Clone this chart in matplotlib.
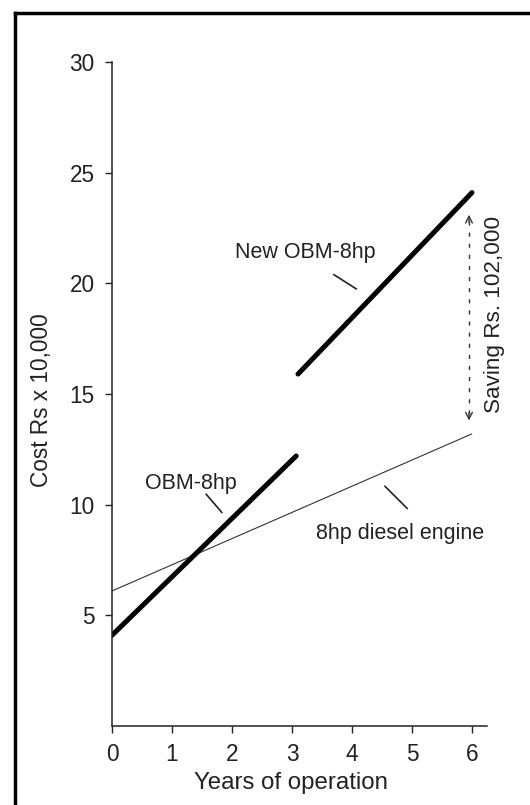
import matplotlib
matplotlib.use("Agg")
import matplotlib.pyplot as plt
from matplotlib.lines import Line2D

plt.rcParams['font.family'] = ['Liberation Sans', 'DejaVu Sans']

# Data (cost in Rs x 10,000 vs years of operation)
obm_years = [0, 3.07]
obm_cost = [4.1, 12.2]
new_obm_years = [3.1, 6.0]
new_obm_cost = [15.9, 24.1]
diesel_years = [0, 6.0]
diesel_cost = [6.1, 13.2]
saving_x = 5.95
saving_range = [13.8, 23.1]

xticks = [0, 1, 2, 3, 4, 5, 6]
yticks = [5, 10, 15, 20, 25, 30]

fig = plt.figure(figsize=(5.30, 8.05), dpi=100)
ax = fig.add_axes([112/530, 1-726/805, (487-112)/530, (726-62)/805])

ax.plot(diesel_years, diesel_cost, color='#333333', lw=0.8, solid_capstyle='butt')
ax.plot(obm_years, obm_cost, color='black', lw=3.6, solid_capstyle='round')
ax.plot(new_obm_years, new_obm_cost, color='black', lw=3.6, solid_capstyle='round')

# saving arrow
ax.plot([saving_x, saving_x], [saving_range[0] + 0.3, saving_range[1] - 0.3],
        color='#333333', lw=1.0, linestyle=(0, (3, 5)))
ax.annotate('', xy=(saving_x, saving_range[1]), xytext=(saving_x, saving_range[1] - 0.35),
            arrowprops=dict(arrowstyle='->', color='#333333', lw=1.0, shrinkA=0, shrinkB=0,
                            mutation_scale=12))
ax.annotate('', xy=(saving_x, saving_range[0]), xytext=(saving_x, saving_range[0] + 0.35),
            arrowprops=dict(arrowstyle='->', color='#333333', lw=1.0, shrinkA=0, shrinkB=0,
                            mutation_scale=12))

txt = dict(fontsize=15.5, color='#222222')
ax.text(3.23, 21.4, 'New OBM-8hp', ha='center', va='center', **txt)
ax.plot([3.70, 4.07], [20.39, 19.75], color='#222222', lw=1.2)
ax.text(1.32, 10.96, 'OBM-8hp', ha='center', va='center', **txt)
ax.plot([1.57, 1.83], [10.47, 9.65], color='#222222', lw=1.2)
ax.text(4.80, 8.7, '8hp diesel engine', ha='center', va='center', **txt)
ax.plot([4.55, 4.92], [10.83, 9.83], color='#222222', lw=1.2)
ax.text(6.37, 18.6, 'Saving Rs. 102,000', ha='center', va='center', rotation=90,
        clip_on=False, fontsize=16.2, color='#222222')

ax.set_xlim(0, 6.25)
ax.set_ylim(0, 30)
ax.set_xticks(xticks)
ax.set_yticks(yticks)
ax.tick_params(axis='both', direction='out', length=5, width=1, labelsize=16.3,
               colors='#222222')
ax.tick_params(axis='y', pad=7.5)
ax.tick_params(axis='x', pad=7)
for s in ['top', 'right']:
    ax.spines[s].set_visible(False)
for s in ['left', 'bottom']:
    ax.spines[s].set_linewidth(1.1)
    ax.spines[s].set_color('#222222')

fig.text(291/530, 1-783/805, 'Years of operation', ha='center', va='center',
         fontsize=17.3, color='#222222')
fig.text(42/530, 1-400/805, 'Cost Rs x 10,000', rotation=90, ha='center', va='center',
         fontsize=16.3, color='#222222')

# page frame (top and left border)
fig.add_artist(Line2D([15/530, 1.0], [1-13/805, 1-13/805], color='black', lw=2.5,
                      transform=fig.transFigure))
fig.add_artist(Line2D([15/530, 15/530], [0, 1-13/805], color='black', lw=2.5,
                      transform=fig.transFigure))

fig.savefig('out.png', dpi=100)
